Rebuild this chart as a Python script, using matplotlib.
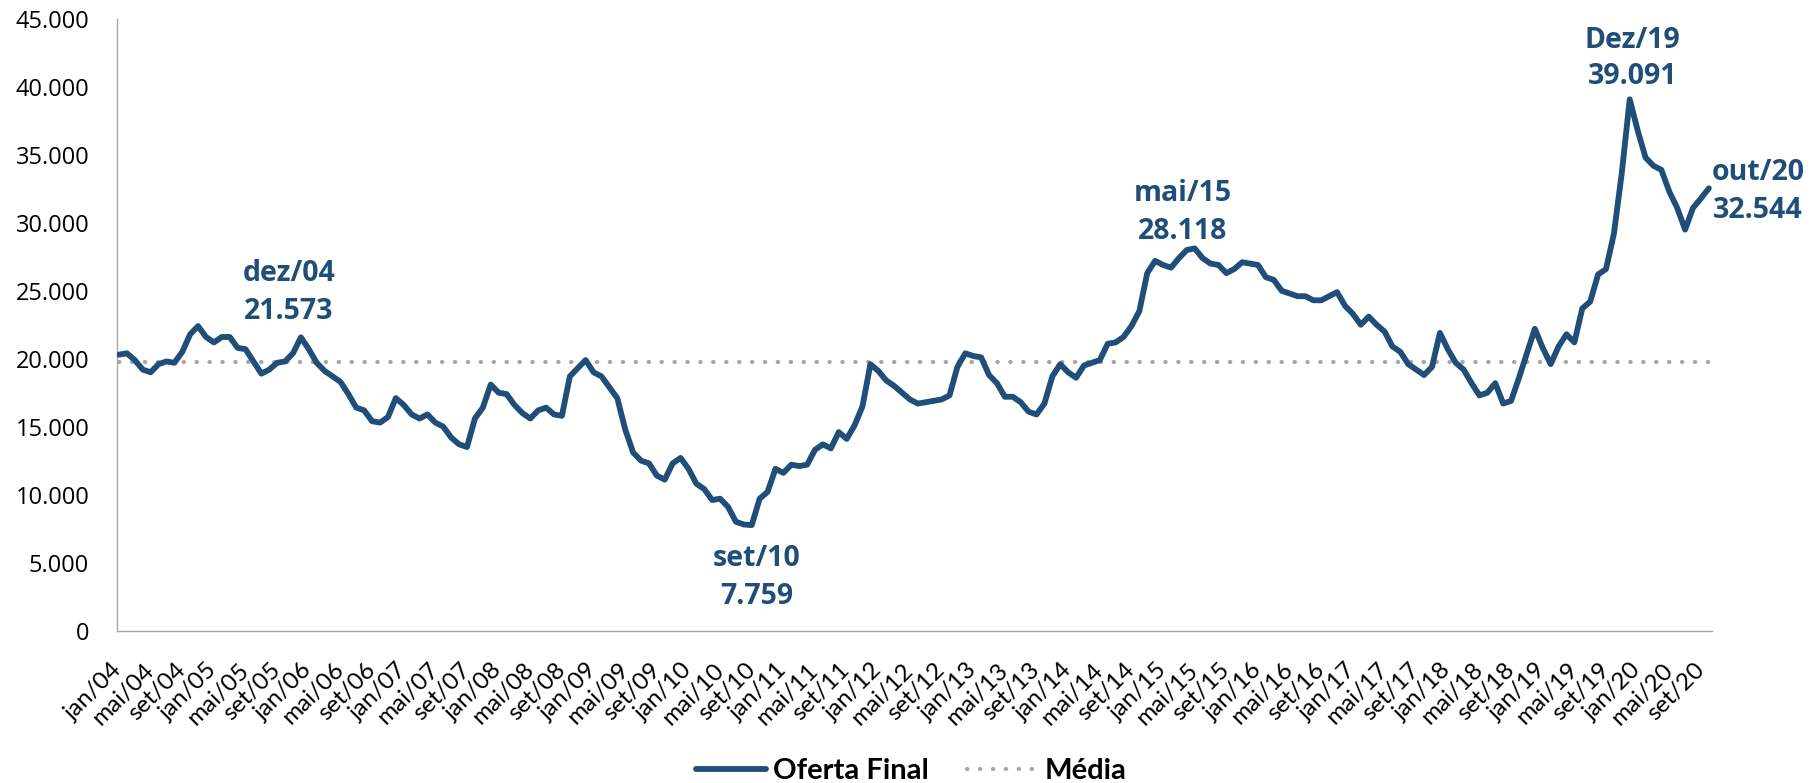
import matplotlib
matplotlib.use("Agg")
import matplotlib.pyplot as plt
from matplotlib.ticker import FuncFormatter

# oferta final mensal, jan/04 .. out/20
oferta = [
    20300, 20400, 19900, 19200, 19000, 19600, 19800, 19700, 20500, 21800, 22400, 21600,
    21200, 21600, 21600, 20800, 20700, 19800, 18900, 19200, 19700, 19800, 20400, 21573,
    20700, 19700, 19100, 18700, 18300, 17400, 16400, 16200, 15400, 15300, 15700, 17100,
    16600, 15900, 15600, 15900, 15300, 15000, 14200, 13700, 13500, 15600, 16400, 18100,
    17500, 17400, 16600, 16000, 15600, 16200, 16400, 15900, 15800, 18700, 19300, 19900,
    19000, 18700, 17900, 17100, 14800, 13100, 12500, 12300, 11400, 11100, 12300, 12700,
    11900, 10800, 10400, 9600, 9700, 9100, 8000, 7800, 7759, 9700, 10200, 11900,
    11600, 12200, 12100, 12200, 13300, 13700, 13400, 14600, 14100, 15100, 16500, 19600,
    19100, 18400, 18000, 17500, 17000, 16700, 16800, 16900, 17000, 17300, 19400, 20400,
    20200, 20100, 18800, 18200, 17200, 17200, 16800, 16100, 15900, 16700, 18700, 19600,
    19000, 18600, 19500, 19700, 19900, 21100, 21200, 21600, 22400, 23500, 26300, 27200,
    26900, 26700, 27400, 28000, 28118, 27400, 27000, 26900, 26300, 26600, 27100, 27000,
    26900, 26000, 25800, 25000, 24800, 24600, 24600, 24300, 24300, 24600, 24900, 23900,
    23300, 22500, 23100, 22500, 22000, 20900, 20500, 19600, 19200, 18800, 19400, 21900,
    20700, 19700, 19200, 18200, 17300, 17500, 18200, 16700, 16900, 18600, 20400, 22200,
    20800, 19600, 20900, 21800, 21200, 23700, 24200, 26200, 26600, 29200, 33700, 39091,
    36800, 34800, 34200, 33900, 32300, 31100, 29500, 31100, 31800, 32544,
]
media = 19750

meses = ["jan", "fev", "mar", "abr", "mai", "jun", "jul", "ago", "set", "out", "nov", "dez"]
categorias = [f"{meses[k % 12]}/{4 + k // 12:02d}" for k in range(len(oferta))]

# destaques: indice do ponto e rotulo
dest_idx = [23, 80, 136, 191, 201]
dest_txt = ["dez/04", "set/10", "mai/15", "Dez/19", "out/20"]
# deslocamento (pixels) das duas linhas do rotulo em relacao ao ponto
dest_off = [(-12, 64, 26), (5, -33, -71), (-12, 55, 17), (3, 59, 23), (49, 16, -22)]

azul = "#1F4E79"
cinza = "#A6A6A6"

fig = plt.figure(figsize=(18.1, 7.83), dpi=100)
ax = fig.add_axes([117 / 1810, 1 - 630.5 / 783, (1712 - 117) / 1810, (630.5 - 19) / 783])

x = list(range(len(oferta)))
ax.plot(x, oferta, color=azul, lw=4.2, solid_joinstyle="round", solid_capstyle="round",
        label="Oferta Final", zorder=3)
ax.plot([x[0], x[-1]], [media, media], color=cinza, lw=3.0, linestyle=(0, (0.1, 3.0)),
        dash_capstyle="round", label="Média", zorder=2)

ax.set_xlim(-0.25, 201.4)
ax.set_ylim(0, 45000)
ax.set_yticks(range(0, 45001, 5000))
ax.yaxis.set_major_formatter(FuncFormatter(lambda v, p: f"{int(v):,}".replace(",", ".")))
ax.set_xticks(x[::4])
ax.set_xticklabels(categorias[::4], rotation=45, ha="right", va="center",
                   rotation_mode="anchor", fontfamily="Lato", fontsize=17.5)
for lab in ax.get_yticklabels():
    lab.set_fontfamily("Open Sans")
    lab.set_fontsize(17)
ax.tick_params(axis="y", length=0, pad=20)
ax.tick_params(axis="x", length=0, pad=26)

for s in ["top", "right"]:
    ax.spines[s].set_visible(False)
for s in ["left", "bottom"]:
    ax.spines[s].set_color("#A6A6A6")
    ax.spines[s].set_linewidth(1.0)

px = 72 / 100
for i, t, (dx, dy1, dy2) in zip(dest_idx, dest_txt, dest_off):
    v = oferta[i]
    for txt, dy in [(t, dy1), (f"{v:,}".replace(",", "."), dy2)]:
        ax.annotate(txt, xy=(i, v), xytext=(dx * px, dy * px), textcoords="offset points",
                    ha="center", va="center", fontsize=20.5, fontweight="bold",
                    fontfamily="Open Sans", color=azul, annotation_clip=False)

leg = fig.legend(loc="center", bbox_to_anchor=(911 / 1810, 1 - 771 / 783), ncol=2,
                 frameon=False, handlelength=2.4, handletextpad=0.25, columnspacing=1.3,
                 prop={"family": "Lato", "weight": "bold", "size": 21})

fig.savefig("out.png", dpi=100)
